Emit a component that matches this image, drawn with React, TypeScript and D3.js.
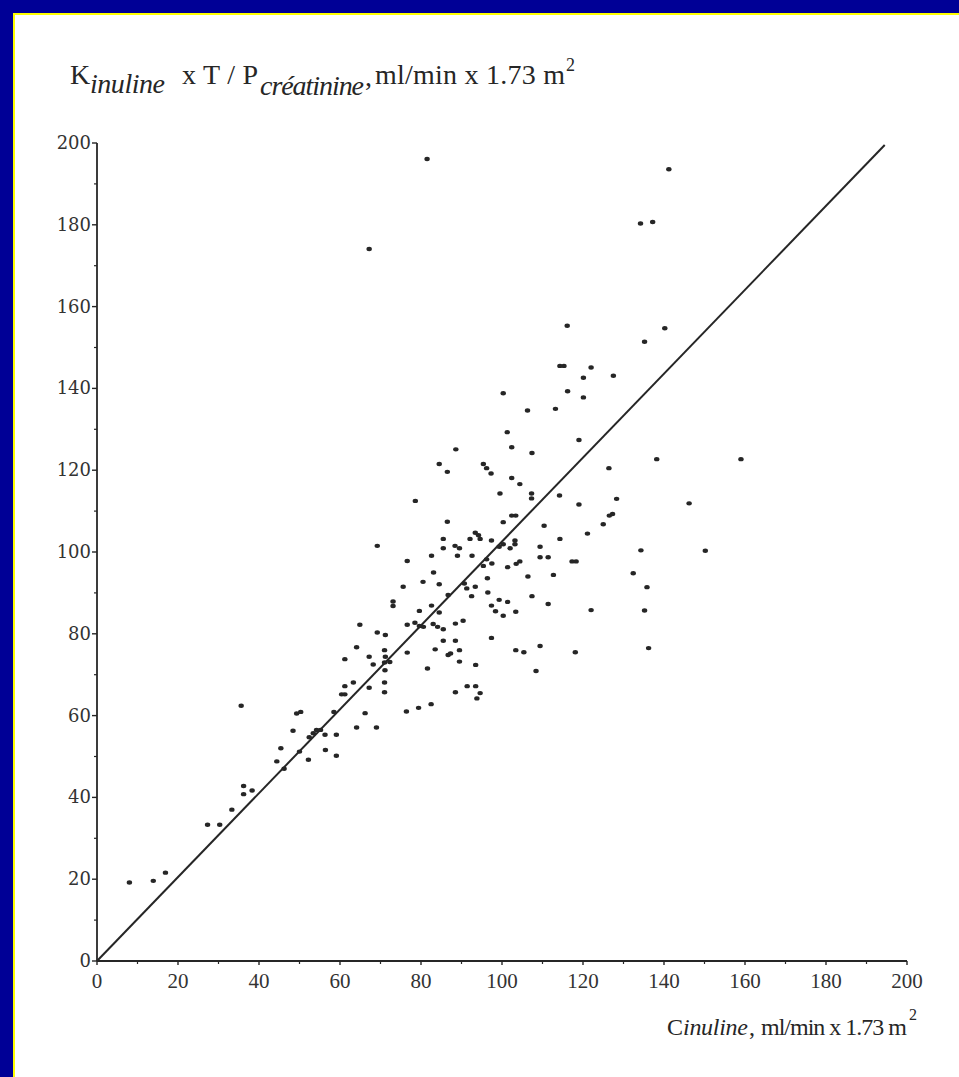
import React from 'react';
import * as d3 from 'd3';

// C inuline (x) vs K inuline x T / P creatinine (y), ml/min x 1.73 m2
const cInuline = [
  8.0, 13.9, 16.9, 27.3, 30.3, 33.3, 35.6, 36.2, 36.2, 38.3,
  44.4, 45.4, 46.2, 48.4, 49.3, 50.3, 50.0, 52.2, 52.4, 53.4,
  54.2, 55.2, 56.3, 56.4, 58.5, 59.1, 59.1, 60.4, 61.2, 61.2,
  61.2, 63.3, 64.1, 64.1, 64.9,
  114.3, 115.3, 122.0, 127.5, 120.1, 116.2, 120.1, 100.3, 106.3, 113.2,
  101.3, 102.4, 119.0, 107.4, 88.6, 84.5, 86.5, 95.4, 96.2, 97.3,
  126.4, 102.4, 104.4, 99.5, 107.3, 107.3, 114.2, 128.3, 119.0, 78.6,
  102.4, 103.4, 100.3, 86.5, 126.5, 127.3, 125.0, 110.4, 121.1, 93.4,
  94.2, 92.1, 94.6, 85.5, 97.4, 114.3, 85.5, 88.4, 89.5, 99.3,
  100.3, 102.0, 103.2, 103.2, 109.4, 69.2, 82.6, 89.0, 92.6, 109.4,
  111.4, 117.3, 118.3, 76.6, 96.2, 97.5, 95.4, 101.4, 103.5, 104.4,
  83.1, 80.5, 84.5, 90.7, 91.3, 93.4, 96.4, 106.4, 112.7, 75.6,
  92.5, 96.5, 86.7, 73.1, 73.1, 107.4, 82.6, 84.5, 79.6, 97.4,
  98.4, 100.3, 99.3, 101.4, 103.4, 111.4, 122.0, 76.6, 78.5, 79.6,
  80.6, 83.0, 84.1, 85.5, 88.5, 90.4, 69.2, 71.2, 67.2, 68.2,
  71.0, 71.2, 72.3, 71.0, 71.1, 76.6, 83.5, 85.5, 88.5, 86.7,
  87.3, 89.5, 89.5, 93.5, 81.6, 71.0, 71.0, 67.2, 66.2, 69.0,
  76.4, 79.4, 82.5, 88.5, 91.4, 93.5, 94.6, 93.8, 97.4, 103.4,
  105.4, 109.4, 118.1, 108.4,
  138.2, 159.0, 146.2, 134.3, 150.2, 132.4, 135.8, 135.2, 136.2,
  141.2, 134.2, 137.2, 116.1, 140.2, 135.2,
  81.5, 67.2,
];

const kInuline = [
  19.2, 19.6, 21.6, 33.3, 33.3, 37.0, 62.4, 42.8, 40.8, 41.7,
  48.8, 52.0, 47.0, 56.3, 60.5, 60.9, 51.2, 49.2, 54.7, 55.7,
  56.5, 56.5, 55.3, 51.6, 60.9, 55.3, 50.2, 65.2, 65.2, 67.2,
  73.8, 68.1, 76.7, 57.1, 82.2,
  145.5, 145.5, 145.1, 143.1, 142.6, 139.3, 137.8, 138.8, 134.6, 135.0,
  129.3, 125.6, 127.4, 124.2, 125.1, 121.5, 119.6, 121.5, 120.5, 119.2,
  120.5, 118.1, 116.6, 114.3, 114.3, 113.1, 113.8, 113.0, 111.6, 112.5,
  108.9, 108.9, 107.3, 107.4, 108.9, 109.3, 106.8, 106.4, 104.5, 104.7,
  104.1, 103.2, 103.2, 103.2, 102.8, 103.2, 100.9, 101.5, 100.9, 101.3,
  101.9, 100.9, 101.9, 102.8, 101.3, 101.5, 99.1, 99.1, 99.1, 98.7,
  98.7, 97.7, 97.7, 97.8, 98.2, 97.2, 96.6, 96.3, 97.1, 97.7,
  95.0, 92.7, 92.1, 92.3, 91.1, 91.5, 93.6, 94.0, 94.4, 91.5,
  89.2, 90.1, 89.5, 87.9, 86.8, 89.2, 86.9, 85.2, 85.6, 86.9,
  85.5, 84.4, 88.3, 87.8, 85.4, 87.3, 85.8, 82.2, 82.7, 81.9,
  81.7, 82.4, 81.7, 81.1, 82.5, 83.2, 80.3, 79.7, 74.4, 72.5,
  76.0, 74.4, 73.1, 73.0, 71.1, 75.4, 76.2, 78.3, 78.3, 74.8,
  75.2, 76.0, 73.2, 72.4, 71.5, 68.1, 65.7, 66.8, 60.6, 57.1,
  61.0, 61.9, 62.8, 65.7, 67.2, 67.2, 65.5, 64.2, 79.0, 76.0,
  75.5, 77.0, 75.5, 70.9,
  122.7, 122.7, 111.9, 100.4, 100.3, 94.8, 91.4, 85.7, 76.5,
  193.6, 180.3, 180.7, 155.3, 154.7, 151.4,
  196.1, 174.1,
];

// reference line drawn through the cloud
const lineX = [0, 194.5];
const lineY = [0, 199.5];

const xTicks = [0, 20, 40, 60, 80, 100, 120, 140, 160, 180, 200];
const yTicks = [0, 20, 40, 60, 80, 100, 120, 140, 160, 180, 200];
const minorTicks = [10, 30, 50, 70, 90, 110, 130, 150, 170, 190];

const serif = '"Liberation Serif", "Times New Roman", serif';
const wideSerif = '"DejaVu Serif", serif';
const ink = '#262626';

export default function App() {
  const x = d3.scaleLinear().domain([0, 200]).range([97, 907]);
  const y = d3.scaleLinear().domain([0, 200]).range([961, 143]);

  const points = cInuline.map((c, i) => ({ c, k: kInuline[i] }));
  const line = d3
    .line<number>()
    .x((d) => x(d))
    .y((_, i) => y(lineY[i]));

  return (
    <svg
      width={959}
      height={1077}
      style={{ position: 'absolute', left: 0, top: 0, display: 'block' }}
    >
      {/* slide frame */}
      <rect x={0} y={0} width={959} height={1077} fill="#000096" />
      <rect
        x={14}
        y={14}
        width={1000}
        height={1100}
        fill="#ffffff"
        stroke="#ffff00"
        strokeWidth={2}
      />

      {/* y axis title */}
      <text fontFamily={serif} fontSize={28} fill={ink}>
        <tspan x={70} y={84} textLength={19}>K</tspan>
        <tspan x={90} y={93} fontStyle="italic" textLength={75}>inuline</tspan>
        <tspan x={182} y={84} textLength={76}>x T / P</tspan>
        <tspan x={260} y={95} fontStyle="italic" textLength={104}>créatinine</tspan>
        <tspan x={365} y={86}>,</tspan>
        <tspan x={375} y={84} textLength={190}>ml/min x 1.73 m</tspan>
        <tspan x={566} y={71} fontSize={18}>2</tspan>
      </text>

      {/* y axis */}
      <line x1={x(0)} x2={x(0)} y1={y(0)} y2={y(200)} stroke={ink} strokeWidth={1.8} />
      {yTicks.map((t) => (
        <g key={'y' + t}>
          <line x1={x(0) - 5} x2={x(0)} y1={y(t)} y2={y(t)} stroke={ink} strokeWidth={1.4} />
          <text
            x={x(0) - 6}
            y={y(t) + 6}
            textAnchor="end"
            fontFamily={wideSerif}
            fontSize={18}
            fill="#333"
          >
            {t}
          </text>
        </g>
      ))}
      {minorTicks.map((t) => (
        <line key={'ym' + t} x1={x(0) - 3} x2={x(0)} y1={y(t)} y2={y(t)} stroke={ink} strokeWidth={1.2} />
      ))}

      {/* x axis */}
      <line x1={x(0)} x2={x(200)} y1={y(0)} y2={y(0)} stroke={ink} strokeWidth={1.8} />
      {xTicks.map((t) => (
        <g key={'x' + t}>
          <line x1={x(t)} x2={x(t)} y1={y(0)} y2={y(0) + 4} stroke={ink} strokeWidth={1.4} />
          <text
            x={x(t)}
            y={988}
            textAnchor="middle"
            fontFamily={serif}
            fontSize={21}
            fill="#333"
          >
            {t}
          </text>
        </g>
      ))}
      {minorTicks.map((t) => (
        <line key={'xm' + t} x1={x(t)} x2={x(t)} y1={y(0)} y2={y(0) + 3} stroke={ink} strokeWidth={1.2} />
      ))}

      {/* x axis title */}
      <text fontFamily={serif} fontSize={24} fill={ink}>
        <tspan x={667} y={1035} textLength={15}>C</tspan>
        <tspan x={683} y={1035} fontStyle="italic" textLength={65}>inuline</tspan>
        <tspan x={749} y={1035}>,</tspan>
        <tspan x={761} y={1035} textLength={146}>ml/min x 1.73 m</tspan>
        <tspan x={909} y={1020} fontSize={16}>2</tspan>
      </text>

      {/* line */}
      <path d={line(lineX) || ''} fill="none" stroke={ink} strokeWidth={2} />

      {/* points */}
      {points.map((p, i) => (
        <ellipse key={i} cx={x(p.c)} cy={y(p.k)} rx={2.7} ry={2.2} fill={ink} />
      ))}
    </svg>
  );
}
